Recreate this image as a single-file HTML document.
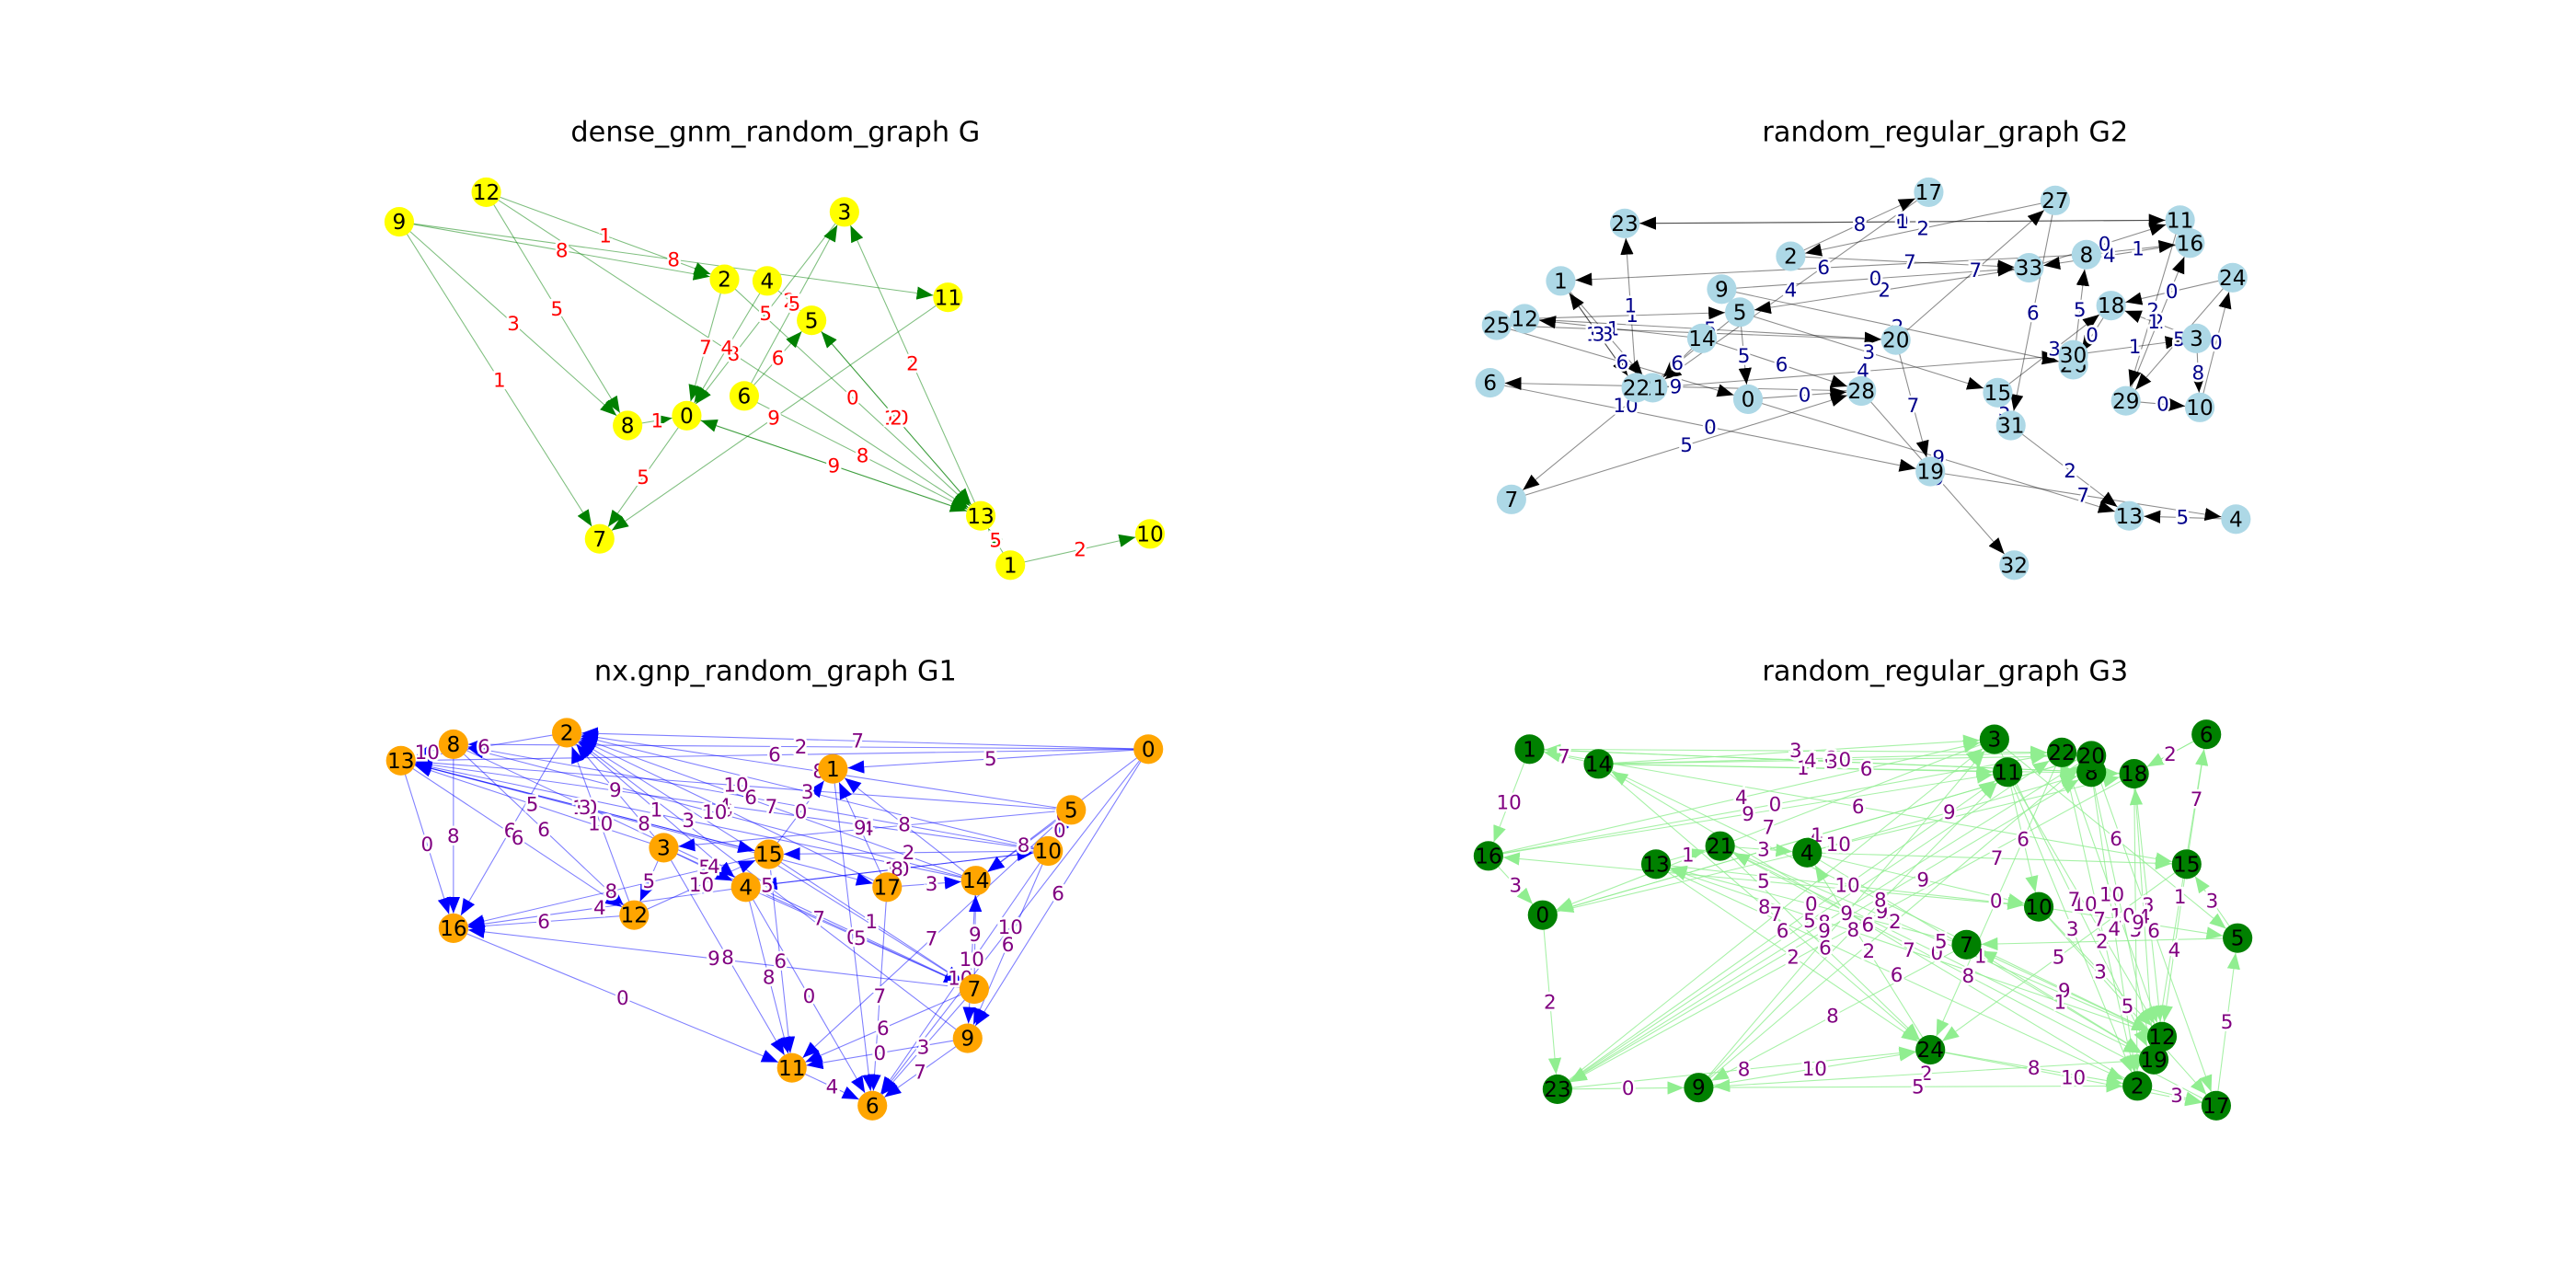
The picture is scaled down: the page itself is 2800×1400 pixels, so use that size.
<!DOCTYPE html>
<html><head><meta charset="utf-8"><style>
html,body{margin:0;padding:0;background:#fff;}
svg{display:block;font-family:"DejaVu Sans","Liberation Sans",sans-serif;}
</style></head><body>
<svg id="fig" width="2800" height="1400" viewBox="0 0 1568 784" xmlns="http://www.w3.org/2000/svg">
<defs>
<marker id="aG" markerWidth="10" markerHeight="8" refX="10" refY="4" orient="auto" markerUnits="userSpaceOnUse"><path d="M0,0 L10,4 L0,8 z" fill="green"/></marker>
<marker id="aK" markerWidth="10" markerHeight="8" refX="10" refY="4" orient="auto" markerUnits="userSpaceOnUse"><path d="M0,0 L10,4 L0,8 z" fill="#000"/></marker>
<marker id="aB" markerWidth="10" markerHeight="8" refX="10" refY="4" orient="auto" markerUnits="userSpaceOnUse"><path d="M0,0 L10,4 L0,8 z" fill="blue"/></marker>
<marker id="aL" markerWidth="10" markerHeight="8" refX="10" refY="4" orient="auto" markerUnits="userSpaceOnUse"><path d="M0,0 L10,4 L0,8 z" fill="lightgreen"/></marker>
</defs>
<text x="472" y="86" font-size="17" text-anchor="middle">dense_gnm_random_graph G</text>
<text x="1184" y="86" font-size="17" text-anchor="middle">random_regular_graph G2</text>
<text x="472" y="414" font-size="17" text-anchor="middle">nx.gnp_random_graph G1</text>
<text x="1184" y="414" font-size="17" text-anchor="middle">random_regular_graph G3</text>
<g id="g0"></g>
<g id="g1"></g>
<g id="g2"></g>
<g id="g3"></g>
</svg>
<script>
// Graph G (dense_gnm)
const nodesG = {12:[296,117],9:[243,135],3:[514,129],2:[441,170],4:[467,171],11:[577,181],5:[494,195],6:[453,241],0:[418,253],8:[382,259],7:[365,328],13:[597,314],1:[615,344],10:[700,325]};
const edgesG = [[9,2,8],[9,11,8],[9,8,3],[9,7,1],[12,8,5],[12,13,8],[12,2,1],[3,0,5],[13,3,2],[4,0,4],[2,0,7],[13,5,10],[5,13,2],[13,0,6],[0,13,9],[6,5,6],[11,7,9],[8,0,1],[0,7,5],[1,10,2],[1,13,5],[2,13,0],[6,13,8],[4,5,2],[6,3,5]];
// Graph G2
const nodesG2 = {17:[1174,117],27:[1251,122],23:[989,136],11:[1327,134],16:[1333,148],2:[1090,156],8:[1270,155],33:[1235,163],24:[1359,169],1:[950,171],9:[1048,176],5:[1059,190],18:[1285,186],25:[911,198],12:[928,194],3:[1337,206],14:[1036,206],20:[1154,207],30:[1262,216],26:[1262,222],6:[907,233],22:[996,236],21:[1006,236],0:[1064,243],28:[1133,238],15:[1216,239],29:[1294,244],10:[1339,248],31:[1224,259],19:[1175,287],7:[920,304],13:[1296,314],4:[1361,316],32:[1226,344]};
const edgesG2 = [[2,17,8],[11,23,0],[27,2,2],[33,5,2],[9,33,0],[8,1,6],[16,33,4],[24,18,0],[12,5,1],[25,20,4],[5,7,10],[14,21,6],[5,0,5],[1,22,10],[21,30,4],[28,6,9],[0,28,0],[28,32,9],[20,19,7],[15,31,5],[31,13,2],[29,10,0],[3,10,8],[18,26,0],[30,3,1],[26,8,5],[11,29,2],[19,4,7],[7,28,5],[6,19,0],[22,23,1],[12,20,5],[14,12,1],[27,31,6],[17,21,4],[24,29,5],[33,11,0],[15,18,3],[4,13,5],[9,26,2],[23,11,1],[2,33,7],[1,21,8],[5,15,3],[20,27,7],[0,13,9],[14,28,6],[22,1,3],[25,0,6],[8,16,1],[10,24,0],[29,16,2],[3,18,1]];
// Graph G1
const nodesG1 = {13:[244,463],8:[276,453],2:[345,446],1:[507,468],0:[699,456],5:[652,493],10:[638,518],15:[468,520],3:[404,516],14:[594,536],17:[540,540],4:[454,540],12:[386,557],16:[276,565],7:[593,602],9:[589,632],11:[482,650],6:[531,673]};
const edgesG1 = [[8,13,10],[2,13,6],[3,13,5],[15,13,10],[13,16,0],[8,16,8],[2,16,6],[12,16,6],[7,16,9],[0,1,5],[10,2,3],[14,2,7],[17,2,0],[5,3,4],[10,15,2],[0,14,0],[0,9,6],[0,6,10],[5,11,7],[10,6,10],[1,6,0],[15,11,6],[3,11,8],[4,11,8],[12,2,10],[13,12,6],[17,1,9],[14,1,8],[15,7,1],[4,7,5],[16,11,0],[11,6,4],[9,6,7],[7,14,9],[17,14,3],[13,17,8],[10,4,10],[3,4,5],[8,7,4],[5,10,0],[0,13,6],[5,13,10],[10,13,4],[14,13,3],[0,2,7],[5,2,8],[7,2,6],[9,2,5],[0,8,2],[10,8,6],[14,8,10],[4,16,4],[15,16,8],[3,12,5],[8,12,6],[7,11,6],[9,11,0],[17,6,7],[4,6,0],[7,6,3],[14,9,10],[10,9,6],[5,14,8],[15,1,0],[3,2,9],[13,15,3],[12,15,10],[4,10,8],[3,7,7],[2,4,1]];
// Graph G3
const nodesG3 = {1:[931,456],14:[973,465],3:[1214,450],22:[1255,458],20:[1273,460],8:[1273,470],11:[1222,470],18:[1299,471],6:[1343,447],16:[906,521],13:[1008,526],21:[1047,515],4:[1100,519],15:[1331,526],0:[939,557],10:[1241,552],7:[1197,575],5:[1362,571],12:[1316,631],19:[1311,645],24:[1175,639],2:[1301,661],17:[1349,673],23:[948,663],9:[1034,662]};
const edgesG3 = [[1,16,10],[14,1,7],[14,3,8],[14,11,1],[14,22,6],[14,24,8],[16,0,3],[0,23,2],[23,9,0],[9,24,10],[24,2,8],[2,17,3],[17,5,5],[5,15,3],[15,6,7],[6,18,2],[18,12,3],[12,13,7],[13,21,1],[21,4,3],[4,8,9],[8,19,10],[19,9,2],[9,3,9],[3,0,7],[0,20,4],[20,23,8],[23,11,6],[11,12,10],[12,7,9],[7,13,0],[13,10,10],[10,16,5],[16,22,0],[22,2,7],[2,14,6],[1,15,6],[15,24,5],[24,4,2],[4,10,9],[10,17,5],[17,21,8],[21,19,0],[19,18,4],[18,1,3],[3,5,6],[5,7,2],[7,9,8],[6,23,9],[20,0,1],[23,3,7],[23,22,5],[9,11,8],[9,20,2],[23,8,9],[16,3,4],[14,20,0],[1,22,3],[13,2,6],[21,12,5],[4,19,1],[0,18,10],[14,12,8],[11,2,3],[3,19,7],[22,12,10],[20,17,6],[8,2,4],[18,2,5],[10,12,3],[7,19,1],[24,17,10],[9,2,5],[23,24,8],[21,24,6],[13,24,2],[16,11,9],[1,8,4],[14,18,6],[4,15,7],[10,5,9],[15,12,4],[6,19,1],[22,24,0],[11,10,6]];

function drawGraph(gid, nodes, edges, opt){
  const g = document.getElementById(gid);
  const ns = "http://www.w3.org/2000/svg";
  const r = 9;
  edges.forEach(e=>{
    const a = nodes[e[0]], b = nodes[e[1]];
    if(!a||!b) return;
    const dx=b[0]-a[0], dy=b[1]-a[1], L=Math.hypot(dx,dy)||1;
    const ln=document.createElementNS(ns,"line");
    ln.setAttribute("x1",a[0]); ln.setAttribute("y1",a[1]);
    ln.setAttribute("x2",b[0]-dx/L*r); ln.setAttribute("y2",b[1]-dy/L*r);
    ln.setAttribute("stroke",opt.ec); ln.setAttribute("stroke-width","0.6");
    ln.setAttribute("stroke-opacity",opt.ea);
    ln.setAttribute("marker-end","url(#"+opt.mk+")");
    
    
    g.appendChild(ln);
  });
  edges.forEach(e=>{
    const a = nodes[e[0]], b = nodes[e[1]];
    if(!a||!b) return;
    const t=document.createElementNS(ns,"text");
    t.setAttribute("x",(a[0]+b[0])/2); t.setAttribute("y",(a[1]+b[1])/2+4);
    t.setAttribute("font-size","12"); t.setAttribute("text-anchor","middle");
    t.setAttribute("fill",opt.lc);
    t.setAttribute("stroke","#fff"); t.setAttribute("stroke-width","3"); t.setAttribute("paint-order","stroke");
    t.textContent=e[2];
    
    
    g.appendChild(t);
  });
  Object.keys(nodes).forEach(k=>{
    const p=nodes[k];
    const c=document.createElementNS(ns,"circle");
    c.setAttribute("cx",p[0]); c.setAttribute("cy",p[1]); c.setAttribute("r",r);
    c.setAttribute("fill",opt.nc);
    
    
    g.appendChild(c);
    const t=document.createElementNS(ns,"text");
    t.setAttribute("x",p[0]); t.setAttribute("y",p[1]+4.5);
    t.setAttribute("font-size","13"); t.setAttribute("text-anchor","middle");
    t.textContent=k;
    
    
    g.appendChild(t);
  });
}
drawGraph("g0",nodesG,edgesG,{ec:"green",ea:0.5,mk:"aG",lc:"red",nc:"yellow"});
drawGraph("g1",nodesG2,edgesG2,{ec:"#000",ea:0.45,mk:"aK",lc:"darkblue",nc:"lightblue"});
drawGraph("g2",nodesG1,edgesG1,{ec:"blue",ea:0.5,mk:"aB",lc:"purple",nc:"orange"});
drawGraph("g3",nodesG3,edgesG3,{ec:"lightgreen",ea:0.8,mk:"aL",lc:"purple",nc:"green"});
</script>
</body></html>
